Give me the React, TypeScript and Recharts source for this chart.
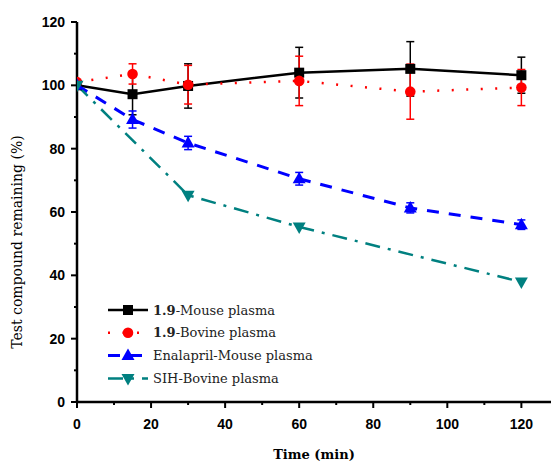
import React from 'react'
import { LineChart, Line, XAxis, YAxis, ErrorBar, Legend } from 'recharts'

// sampling times (min)
const times = [0, 15, 30, 60, 90, 120]

// % remaining
const mouse19 = [100, 97.2, 99.8, 104.0, 105.2, 103.2]
const mouse19Err = [null, 6.5, 7.0, 8.0, 8.6, 5.7]
const bovine19 = [101, 103.6, 100.2, 101.4, 98.0, 99.3]
const bovine19Err = [null, 3.2, 6.1, 7.8, 8.7, 5.7]
const enalaprilMouse = [100, 89.2, 81.8, 70.5, 61.3, 56.0]
const enalaprilMouseErr = [null, 2.7, 2.1, 2.0, 1.6, 1.5]
const sihBovine = [100, null, 65.3, 55.3, null, 37.9]

const xTicks = [0, 10, 20, 30, 40, 50, 60, 70, 80, 90, 100, 110, 120]
const yTicks = [0, 10, 20, 30, 40, 50, 60, 70, 80, 90, 100, 110, 120]

const data = times.map((t, i) => ({
  time: t,
  mouse19: mouse19[i],
  mouse19Err: mouse19Err[i],
  bovine19: bovine19[i],
  bovine19Err: bovine19Err[i],
  enalapril: enalaprilMouse[i],
  enalaprilErr: enalaprilMouseErr[i],
  sih: sihBovine[i],
}))

type Shape = 'square' | 'circle' | 'up' | 'down'

const SERIES = [
  { key: 'mouse19', err: 'mouse19Err', bold: '1.9', name: '-Mouse plasma', color: '#000000', shape: 'square' as Shape, dash: undefined, width: 2.5 },
  { key: 'bovine19', err: 'bovine19Err', bold: '1.9', name: '-Bovine plasma', color: '#ff0000', shape: 'circle' as Shape, dash: '2 12.5', width: 2.5 },
  { key: 'enalapril', err: 'enalaprilErr', bold: '', name: 'Enalapril-Mouse plasma', color: '#0000ff', shape: 'up' as Shape, dash: '12 10', width: 3 },
  { key: 'sih', err: null, bold: '', name: 'SIH-Bovine plasma', color: '#008080', shape: 'down' as Shape, dash: '15 8 3 8', width: 2.5 },
]

const SERIF = '"DejaVu Serif", serif'
const SANS = '"Liberation Sans", Arial, sans-serif'

function marker(shape: Shape, color: string, cx: number, cy: number, key?: string) {
  switch (shape) {
    case 'square':
      return <rect key={key} x={cx - 5} y={cy - 5} width={10} height={10} fill={color} />
    case 'circle':
      return <circle key={key} cx={cx} cy={cy} r={5.3} fill={color} />
    case 'up':
      return <polygon key={key} points={`${cx},${cy - 7} ${cx + 6.5},${cy + 4.5} ${cx - 6.5},${cy + 4.5}`} fill={color} />
    default:
      return <polygon key={key} points={`${cx},${cy + 7} ${cx + 6.5},${cy - 4.5} ${cx - 6.5},${cy - 4.5}`} fill={color} />
  }
}

const XTick = ({ x, y, payload }: any) => {
  const major = payload.value % 20 === 0
  return (
    <g>
      <line x1={x} x2={x} y1={y} y2={y + (major ? 6 : 3)} stroke="#000" strokeWidth={2} />
      {major && (
        <text x={x} y={y + 27} textAnchor="middle" fontFamily={SANS} fontWeight="bold" fontSize={14} fill="#000">
          {payload.value}
        </text>
      )}
    </g>
  )
}

const YTick = ({ x, y, payload }: any) => {
  const major = payload.value % 20 === 0
  return (
    <g>
      <line x1={x} x2={x - (major ? 6 : 3)} y1={y} y2={y} stroke="#000" strokeWidth={2} />
      {major && (
        <text x={x - 12} y={y + 5} textAnchor="end" fontFamily={SANS} fontWeight="bold" fontSize={14} fill="#000">
          {payload.value}
        </text>
      )}
    </g>
  )
}

const LegendBox = () => (
  <svg width={260} height={100}>
    {SERIES.map((s, i) => {
      const cy = 15 + i * 22.8
      return (
        <g key={s.key}>
          <line x1={3} x2={43} y1={cy} y2={cy} stroke={s.color} strokeWidth={s.width} strokeDasharray={s.dash} />
          {marker(s.shape, s.color, 23, cy)}
          <text x={48} y={cy + 4.5} fontFamily={SERIF} fontSize={13} fill="#222">
            {s.bold && <tspan fontWeight="bold">{s.bold}</tspan>}
            {s.name}
          </text>
        </g>
      )
    })}
  </svg>
)

export default function App() {
  return (
    <div style={{ position: 'absolute', left: 0, top: 0, background: '#fff' }}>
      <LineChart width={551} height={463} data={data} margin={{ top: 22, right: 0, bottom: 0, left: 0 }}>
        <XAxis
          dataKey="time"
          type="number"
          domain={[0, 128]}
          ticks={xTicks}
          interval={0}
          allowDataOverflow
          height={61}
          tickSize={0}
          tickMargin={0}
          tick={<XTick />}
          axisLine={{ stroke: '#000', strokeWidth: 2.5 }}
          label={{
            content: () => (
              <text x={314} y={459} textAnchor="middle" fontFamily={SERIF} fontWeight="bold" fontSize={13} fill="#000">
                Time (min)
              </text>
            ),
          }}
        />
        <YAxis
          type="number"
          domain={[0, 120]}
          ticks={yTicks}
          interval={0}
          width={77}
          tickSize={0}
          tickMargin={0}
          tick={<YTick />}
          axisLine={{ stroke: '#000', strokeWidth: 2.5 }}
          label={{
            content: () => (
              <text transform="translate(22,242) rotate(-90)" textAnchor="middle" fontFamily={SERIF} fontSize={14} fill="#000">
                Test compound remaining (%)
              </text>
            ),
          }}
        />
        <Legend
          layout="vertical"
          align="center"
          verticalAlign="middle"
          content={<LegendBox />}
          wrapperStyle={{ left: 105, top: 295, width: 260 }}
        />
        {SERIES.map((s) => (
          <Line
            key={s.key}
            dataKey={s.key}
            stroke={s.color}
            strokeWidth={s.width}
            strokeDasharray={s.dash}
            connectNulls
            isAnimationActive={false}
            dot={(p: any) =>
              p.cy == null || p.value == null ? <g key={`${s.key}-${p.index}`} /> : marker(s.shape, s.color, p.cx, p.cy, `${s.key}-${p.index}`)
            }
            activeDot={false}
          >
            {s.err && <ErrorBar dataKey={s.err} width={4} stroke={s.color} strokeWidth={1.5} direction="y" />}
          </Line>
        ))}
      </LineChart>
    </div>
  )
}
